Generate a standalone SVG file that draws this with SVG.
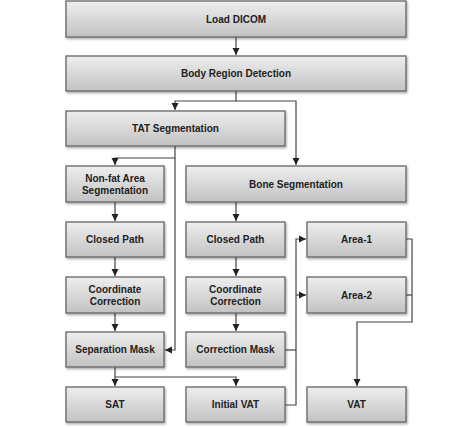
<svg xmlns="http://www.w3.org/2000/svg" width="474" height="427" viewBox="0 0 474 427">
<defs>
<linearGradient id="g" x1="0" y1="0" x2="0" y2="1">
<stop offset="0" stop-color="#eeeeee"/>
<stop offset="1" stop-color="#c2c2c2"/>
</linearGradient>
<marker id="a" markerWidth="8" markerHeight="8" refX="7" refY="4" orient="auto" markerUnits="userSpaceOnUse">
<path d="M0,0.5 L7,4 L0,7.5 Z" fill="#222"/>
</marker>
<filter id="s" x="-10%" y="-10%" width="120%" height="130%">
<feDropShadow dx="1" dy="1.5" stdDeviation="1" flood-color="#000" flood-opacity="0.35"/>
</filter>
</defs>
<style>
.n rect{fill:url(#g);stroke:#666;stroke-width:1.3;filter:url(#s)}
.n text{font-family:"Liberation Sans",Arial,sans-serif;font-weight:bold;font-size:10px;fill:#222;text-anchor:middle}
.c path{fill:none;stroke:#444;stroke-width:1.2}
</style>
<rect width="474" height="427" fill="#fff"/>
<g class="c">
<path d="M236,37 V55" marker-end="url(#a)"/>
<path d="M236,91 V101 H175 V110" marker-end="url(#a)"/>
<path d="M236,101 H296 V165" marker-end="url(#a)"/>
<path d="M175,146 V158 H115 V165" marker-end="url(#a)"/>
<path d="M175,158 V350 H165" marker-end="url(#a)"/>
<path d="M115,202 V221" marker-end="url(#a)"/>
<path d="M115,257 V276" marker-end="url(#a)"/>
<path d="M115,313 V331" marker-end="url(#a)"/>
<path d="M236,202 V221" marker-end="url(#a)"/>
<path d="M236,257 V276" marker-end="url(#a)"/>
<path d="M236,313 V331" marker-end="url(#a)"/>
<path d="M115,367 V386" marker-end="url(#a)"/>
<path d="M115,377 H236 V386" marker-end="url(#a)"/>
<path d="M285,350 H296"/>
<path d="M285,405 H296 V239 H306" marker-end="url(#a)"/>
<path d="M296,295 H306" marker-end="url(#a)"/>
<path d="M406,239 H412 V322 H357 V386" marker-end="url(#a)"/>
<path d="M406,295 H412"/>
</g>
<g id="load" class="n"><rect x="66" y="1" width="340" height="36"/><text x="236" y="23">Load DICOM</text></g>
<g id="body" class="n"><rect x="66" y="56" width="340" height="35"/><text x="236" y="77">Body Region Detection</text></g>
<g id="tat" class="n"><rect x="66" y="111" width="219" height="35"/><text x="175.5" y="132">TAT Segmentation</text></g>
<g id="nonfat" class="n"><rect x="66" y="166" width="98" height="36"/><text x="115" y="182">Non-fat Area</text><text x="115" y="194">Segmentation</text></g>
<g id="bone" class="n"><rect x="186" y="166" width="220" height="36"/><text x="296" y="188">Bone Segmentation</text></g>
<g id="cp1" class="n"><rect x="66" y="222" width="98" height="35"/><text x="115" y="243">Closed Path</text></g>
<g id="cp2" class="n"><rect x="186" y="222" width="99" height="35"/><text x="235.5" y="243">Closed Path</text></g>
<g id="area1" class="n"><rect x="307" y="222" width="99" height="35"/><text x="356.5" y="243">Area-1</text></g>
<g id="cc1" class="n"><rect x="66" y="277" width="98" height="36"/><text x="115" y="293">Coordinate</text><text x="115" y="305">Correction</text></g>
<g id="cc2" class="n"><rect x="186" y="277" width="99" height="36"/><text x="235.5" y="293">Coordinate</text><text x="235.5" y="305">Correction</text></g>
<g id="area2" class="n"><rect x="307" y="277" width="99" height="36"/><text x="356.5" y="299">Area-2</text></g>
<g id="sepmask" class="n"><rect x="66" y="332" width="98" height="35"/><text x="115" y="353">Separation Mask</text></g>
<g id="corrmask" class="n"><rect x="186" y="332" width="99" height="35"/><text x="235.5" y="353">Correction Mask</text></g>
<g id="sat" class="n"><rect x="66" y="387" width="98" height="35"/><text x="115" y="408">SAT</text></g>
<g id="ivat" class="n"><rect x="186" y="387" width="99" height="35"/><text x="235.5" y="408">Initial VAT</text></g>
<g id="vat" class="n"><rect x="307" y="387" width="99" height="35"/><text x="356.5" y="408">VAT</text></g>
</svg>
